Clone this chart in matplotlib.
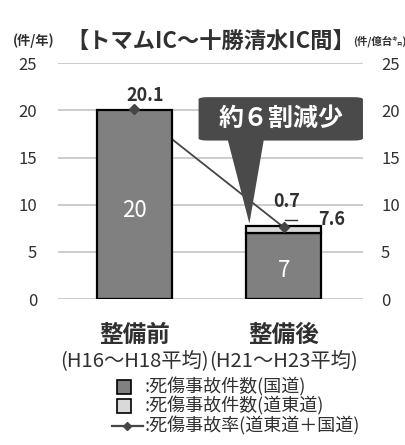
import matplotlib.pyplot as plt
from matplotlib.patches import FancyBboxPatch, Polygon, Rectangle
from matplotlib.lines import Line2D

plt.rcParams['font.family'] = ['Noto Sans CJK JP', 'DejaVu Sans']

periods = ['整備前', '整備後']
period_years = ['(H16～H18平均)', '(H21～H23平均)']
kokudo = [20, 7]          # 死傷事故件数(国道)
dotodo = [0, 0.7]         # 死傷事故件数(道東道)
rate = [20.1, 7.6]        # 死傷事故率(道東道+国道)
ticks = [0, 5, 10, 15, 20, 25]
legend_labels = [':死傷事故件数(国道)', ':死傷事故件数(道東道)', ':死傷事故率(道東道＋国道)']

dark = '#303030'
c_kokudo = '#808080'
c_dotodo = '#d9d9d9'
c_line = '#454545'

fig = plt.figure(figsize=(4.06, 4.45), dpi=100)
ax = fig.add_axes([0.143, 0.328, 0.751, 0.530])
x = list(range(len(periods)))

ax.bar(x, kokudo, width=0.5, color=c_kokudo, edgecolor='black', lw=1.6, zorder=2)
ax.bar(x[1:], dotodo[1:], bottom=kokudo[1:], width=0.5, color=c_dotodo,
       edgecolor='black', lw=1.6, zorder=2)
ax.plot(x, rate, color=c_line, lw=1.3, zorder=1.5)
ax.plot(x, rate, ls='none', marker='D', ms=5, color=c_line, zorder=3)

ax.set_ylim(0, 25)
ax.set_xlim(-0.51, 1.53)
ax.set_yticks(ticks)
ax.yaxis.grid(True, color='#c4c4c4', lw=1.2, zorder=0)
ax.set_axisbelow(True)
ax.set_xticks([])
for s in ax.spines.values():
    s.set_visible(False)
ax.tick_params(axis='y', length=0, labelsize=12, labelcolor=dark, pad=15)

ax2 = ax.twinx()
ax2.set_ylim(0, 25)
ax2.set_yticks(ticks)
for s in ax2.spines.values():
    s.set_visible(False)
ax2.tick_params(axis='y', length=0, labelsize=12, labelcolor=dark, pad=13)

# value labels
ax.text(x[0], kokudo[0] / 2 - 0.6, f'{kokudo[0]}', color='white', fontsize=16,
        ha='center', va='center', zorder=4)
ax.text(x[1], kokudo[1] / 2 - 0.5, f'{kokudo[1]}', color='white', fontsize=16,
        ha='center', va='center', zorder=4)
ax.text(x[0] + 0.07, rate[0] + 0.5, f'{rate[0]}', color=dark, fontsize=13,
        fontweight='bold', ha='center', va='bottom', zorder=4)
ax.text(x[1] + 0.02, 10.3, f'{dotodo[1]}', color=dark, fontsize=13,
        fontweight='bold', ha='center', va='center', zorder=4)
ax.plot([x[1] + 0.01, x[1] + 0.09], [8.4, 8.4], color=dark, lw=1, zorder=4)
ax.text(x[1] + 0.32, 8.4, f'{rate[1]}', color=dark, fontsize=13,
        fontweight='bold', ha='center', va='center', zorder=4)

# callout
box = FancyBboxPatch((0.43, 16.8), 1.1, 4.6, boxstyle='round,pad=0,rounding_size=0.06',
                     fc='#4a4a4a', ec='none', zorder=5, clip_on=False,
                     mutation_aspect=4)
ax.add_patch(box)
ax.add_patch(Polygon([(0.62, 17.2), (0.87, 17.2), (0.77, 8.0)], closed=True,
                     fc='#4a4a4a', ec='none', zorder=5, clip_on=False))
ax.text(0.98, 19.1, '約６割減少', color='white', fontsize=18, fontweight='bold',
        ha='center', va='center', zorder=6)

# category labels
tr = ax.get_xaxis_transform()
for xi, p, yrs in zip(x, periods, period_years):
    ax.text(xi, -0.15, p, transform=tr, ha='center', va='center',
            fontsize=17, fontweight='bold', color=dark)
    ax.text(xi, -0.26, yrs, transform=tr, ha='center', va='center',
            fontsize=14.6, color=dark)

# title and units
fig.text(0.518, 0.905, '【トマムIC～十勝清水IC間】', ha='center', va='center',
         fontsize=16, fontweight='bold', color=dark)
fig.text(0.082, 0.908, '(件/年)', ha='center', va='center', fontsize=9.5,
         fontweight='bold', color=dark)
fig.text(0.935, 0.908, '(件/億台㌔)', ha='center', va='center', fontsize=7.5,
         fontweight='bold', color=dark)

# legend, drawn row by row
rows_y = [387, 406, 426]
fills = [c_kokudo, c_dotodo]
for i, (lab, yp) in enumerate(zip(legend_labels, rows_y)):
    yf = 1 - yp / 445
    if i < len(fills):
        fig.add_artist(Rectangle((117 / 406, yf - 7 / 445), 14 / 406, 14 / 445,
                                 fc=fills[i], ec='black', lw=1.2,
                                 transform=fig.transFigure))
    else:
        fig.add_artist(Line2D([112 / 406, 143 / 406], [yf, yf], color=c_line, lw=1.6,
                              transform=fig.transFigure))
        fig.add_artist(Line2D([127.5 / 406], [yf], color=c_line, marker='D', ms=4.5,
                              transform=fig.transFigure))
    fig.text(145 / 406, yf, lab, ha='left', va='center', fontsize=13, color=dark)

fig.savefig('out.png', dpi=100)
